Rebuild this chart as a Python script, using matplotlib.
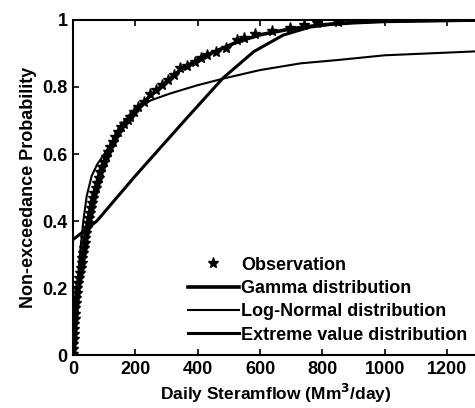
import matplotlib
matplotlib.use("Agg")
import matplotlib.pyplot as plt

obs_q = [0, 1, 1, 2, 3, 3, 4, 5, 6, 7, 8, 10, 12, 14, 17, 20, 22, 26, 28, 30,
         32, 35, 37, 39, 42, 45, 48, 51, 54, 57, 60, 64, 68, 73, 78, 83, 87, 93,
         99, 106, 113, 120, 128, 136, 145, 155, 165, 175, 183, 195, 210, 228,
         247, 265, 285, 305, 325, 343, 365, 390, 410, 430, 460, 490, 526, 550,
         584, 640, 697, 740, 783, 851]
obs_p = [0.005, 0.02, 0.035, 0.05, 0.065, 0.08, 0.095, 0.11, 0.125, 0.14, 0.155,
         0.17, 0.185, 0.2, 0.215, 0.23, 0.245, 0.26, 0.275, 0.29, 0.305, 0.32,
         0.335, 0.35, 0.365, 0.38, 0.395, 0.41, 0.425, 0.44, 0.455, 0.47, 0.485,
         0.5, 0.515, 0.53, 0.545, 0.56, 0.575, 0.59, 0.605, 0.62, 0.635, 0.65,
         0.665, 0.68, 0.69, 0.70, 0.71, 0.725, 0.74, 0.755, 0.78, 0.79, 0.805,
         0.82, 0.835, 0.856, 0.862, 0.875, 0.885, 0.894, 0.905, 0.915, 0.94,
         0.945, 0.957, 0.965, 0.975, 0.983, 0.99, 0.993]

gam_q = [0, 10, 25, 42, 60, 90, 140, 200, 250, 350, 430, 530, 600, 700, 800,
         900, 1000, 1150, 1300]
gam_p = [0, 0.12, 0.26, 0.37, 0.46, 0.56, 0.66, 0.73, 0.775, 0.855, 0.895,
         0.935, 0.955, 0.973, 0.985, 0.991, 0.995, 0.997, 0.999]

logn_q = [0, 5, 12, 22, 33, 44, 60, 78, 97, 129, 170, 204, 250, 311, 400, 488,
          600, 730, 850, 1000, 1150, 1300]
logn_p = [0, 0.07, 0.18, 0.3, 0.4, 0.475, 0.535, 0.57, 0.595, 0.641, 0.70,
          0.735, 0.76, 0.78, 0.805, 0.826, 0.85, 0.87, 0.88, 0.894, 0.90, 0.906]

ev_q = [0, 76, 200, 365, 481, 580, 674, 760, 857, 1000, 1300]
ev_p = [0.345, 0.40, 0.535, 0.707, 0.826, 0.905, 0.954, 0.978, 0.99, 0.996, 0.999]

plt.rcParams["font.family"] = ["Liberation Sans", "DejaVu Sans"]
plt.rcParams["font.weight"] = "bold"

fig = plt.figure(figsize=(4.75, 4.08), dpi=100)
ax = fig.add_axes([0.1537, 0.1287, 0.853, 0.823])

ax.plot(obs_q, obs_p, "*", color="k", ms=8, label="Observation")
ax.plot(gam_q, gam_p, "-", color="k", lw=2.6, label="Gamma distribution")
ax.plot(logn_q, logn_p, "-", color="k", lw=1.5, label="Log-Normal distribution")
ax.plot(ev_q, ev_p, "-", color="k", lw=2.2, label="Extreme value distribution")

ax.set_xlim(0, 1300)
ax.set_ylim(0, 1)
ax.set_xticks([0, 200, 400, 600, 800, 1000, 1200])
ax.set_yticks([0, 0.2, 0.4, 0.6, 0.8, 1])
ax.set_yticklabels(["0", "0.2", "0.4", "0.6", "0.8", "1"])
ax.tick_params(direction="in", length=4, width=1.2, labelsize=13, top=True,
               pad=4)
for s in ax.spines.values():
    s.set_linewidth(1.5)

ax.set_xlabel("Daily Steramflow (Mm$^3$/day)", fontsize=12.5, fontweight="bold",
              labelpad=3)
ax.set_ylabel("Non-exceedance Probability", fontsize=13, fontweight="bold",
              labelpad=4)

leg = ax.legend(loc="lower left", bbox_to_anchor=(0.284, 0.035), frameon=False,
                fontsize=13, handlelength=2.8, handletextpad=0.15,
                labelspacing=0.35, borderaxespad=0, borderpad=0)

fig.savefig("out.png", dpi=100)
